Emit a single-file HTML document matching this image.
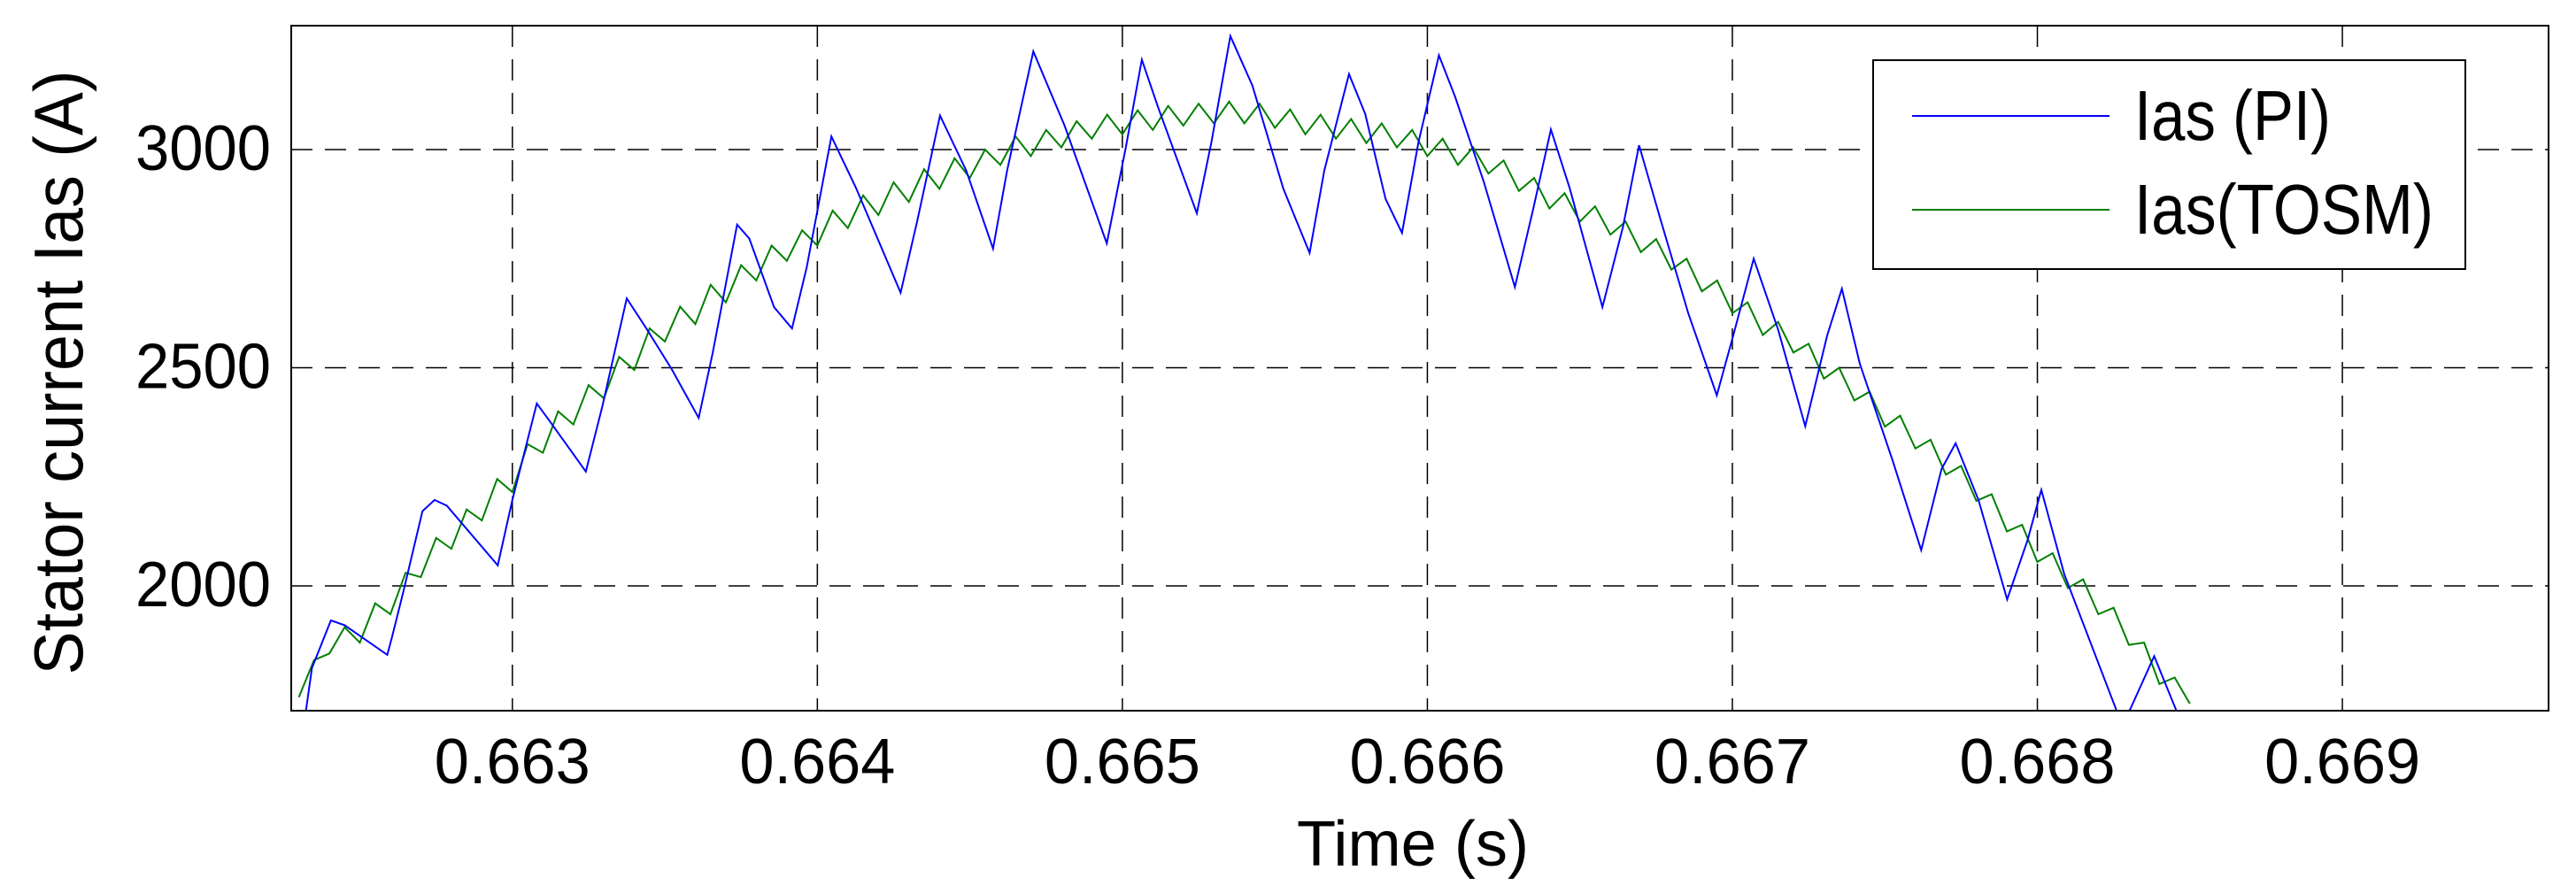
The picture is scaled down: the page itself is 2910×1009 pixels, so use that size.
<!DOCTYPE html>
<html><head><meta charset="utf-8"><style>
html,body{margin:0;padding:0;background:#fff;}
svg{display:block;font-family:"Liberation Sans",Arial,sans-serif;}
</style></head><body>
<svg id="chart" width="2910" height="1009" viewBox="0 0 2910 1009" xmlns="http://www.w3.org/2000/svg">
<rect x="0" y="0" width="2910" height="1009" fill="#fff"/>
<defs><clipPath id="plotclip"><rect x="329" y="29" width="2550" height="774"/></clipPath></defs>
<g id="grid"></g>
<g id="series" clip-path="url(#plotclip)"></g>
<rect x="329" y="29" width="2550" height="774" fill="none" stroke="#000" stroke-width="2"/>
<g id="ticks"></g>
<text x="1596" y="978" font-size="72" text-anchor="middle" textLength="262" lengthAdjust="spacingAndGlyphs">Time (s)</text>
<text transform="translate(93,421) rotate(-90)" font-size="78" text-anchor="middle" textLength="683" lengthAdjust="spacingAndGlyphs">Stator current Ias (A)</text>
<g>
<rect x="2116" y="68" width="669" height="236" fill="#fff" stroke="#000" stroke-width="2"/>
<line x1="2160" y1="131" x2="2383" y2="131" stroke="#0000ff" stroke-width="2"/>
<text x="2411" y="158" font-size="80" textLength="222" lengthAdjust="spacingAndGlyphs">Ias (PI)</text>
<line x1="2160" y1="237" x2="2383" y2="237" stroke="#007f00" stroke-width="2"/>
<text x="2411" y="264" font-size="80" textLength="338" lengthAdjust="spacingAndGlyphs">Ias(TOSM)</text>
</g>
</svg>
<script>
const xTicks = [0.663, 0.664, 0.665, 0.666, 0.667, 0.668, 0.669];
const xTickLabels = ["0.663","0.664","0.665","0.666","0.667","0.668","0.669"];
const yTicks = [2000, 2500, 3000];
const yTickLabels = ["2000","2500","3000"];
const piTime = [0.662322,0.662343,0.662405,0.662450,0.662590,0.662606,0.662643,0.662705,0.662745,0.662785,0.662952,0.663000,0.663080,0.663121,0.663241,0.663295,0.663375,0.663442,0.663523,0.663611,0.663657,0.663737,0.663777,0.663858,0.663917,0.663965,0.664046,0.664126,0.664273,0.664327,0.664402,0.664488,0.664576,0.664622,0.664708,0.664810,0.664949,0.665011,0.665064,0.665118,0.665244,0.665292,0.665354,0.665426,0.665528,0.665614,0.665662,0.665743,0.665796,0.665863,0.665917,0.665971,0.666038,0.666091,0.666185,0.666287,0.666346,0.666405,0.666466,0.666574,0.666641,0.666694,0.666761,0.666855,0.666949,0.667003,0.667070,0.667150,0.667239,0.667311,0.667359,0.667418,0.667525,0.667619,0.667686,0.667732,0.667807,0.667901,0.667968,0.668013,0.668088,0.668263,0.668303,0.668383,0.668464];
const piValues = [1708,1812,1921,1910,1842,1884,1988,2171,2197,2184,2047,2197,2418,2379,2262,2411,2659,2587,2496,2385,2535,2828,2796,2639,2590,2730,3030,2913,2672,2835,3078,2952,2773,2952,3225,3056,2785,3004,3206,3095,2854,3017,3260,3147,2910,2763,2952,3173,3082,2887,2809,3017,3216,3121,2926,2685,2861,3046,2913,2639,2822,3010,2848,2626,2437,2574,2750,2587,2366,2574,2681,2509,2288,2082,2268,2327,2197,1969,2105,2220,2027,1708,1715,1839,1700];
const tosmStart = 0.66230;
const tosmStep = 0.00005;
const tosmValues = [1745,1830,1845,1905,1870,1960,1935,2030,2020,2110,2085,2175,2150,2245,2215,2325,2305,2400,2370,2460,2430,2525,2495,2590,2560,2640,2600,2690,2650,2735,2700,2780,2745,2815,2780,2860,2820,2895,2850,2925,2880,2955,2910,2980,2935,3000,2965,3030,2985,3045,3005,3065,3025,3080,3035,3090,3045,3100,3055,3105,3060,3110,3060,3105,3050,3092,3035,3080,3025,3070,3015,3060,3005,3045,2985,3025,2965,3005,2945,2975,2905,2935,2865,2900,2835,2870,2805,2835,2765,2795,2725,2750,2675,2700,2625,2650,2575,2605,2535,2555,2475,2500,2425,2445,2365,2390,2315,2335,2255,2275,2195,2210,2125,2140,2055,2075,1995,2015,1935,1950,1865,1870,1775,1790,1730];

const NS = "http://www.w3.org/2000/svg";
const L = 329, R = 2879, T = 29, B = 803;
const xMin = 0.662275, xMax = 0.669676, yMin = 1714, yMax = 3284;
function sx(t){ return L + (t - xMin) / (xMax - xMin) * (R - L); }
function sy(v){ return B - (v - yMin) / (yMax - yMin) * (B - T); }

const grid = document.getElementById('grid');
const ticks = document.getElementById('ticks');
xTicks.forEach((t, i) => {
  const x = sx(t);
  const g = document.createElementNS(NS, 'line');
  
  
  g.setAttribute('x1', x); g.setAttribute('x2', x); g.setAttribute('y1', T); g.setAttribute('y2', B);
  g.setAttribute('stroke', '#000'); g.setAttribute('stroke-width', '1.5'); g.setAttribute('stroke-dasharray', '24,14');
  grid.appendChild(g);
  const lb = document.createElementNS(NS, 'text');
  
  
  lb.setAttribute('x', x); lb.setAttribute('y', 885);
  lb.setAttribute('font-size', '72'); lb.setAttribute('text-anchor', 'middle');
  lb.setAttribute('textLength', '176'); lb.setAttribute('lengthAdjust', 'spacingAndGlyphs');
  lb.textContent = xTickLabels[i];
  ticks.appendChild(lb);
});
yTicks.forEach((v, i) => {
  const y = sy(v);
  const g = document.createElementNS(NS, 'line');
  
  
  g.setAttribute('x1', L); g.setAttribute('x2', R); g.setAttribute('y1', y); g.setAttribute('y2', y);
  g.setAttribute('stroke', '#000'); g.setAttribute('stroke-width', '1.5'); g.setAttribute('stroke-dasharray', '24,14');
  grid.appendChild(g);
  const lb = document.createElementNS(NS, 'text');
  
  
  lb.setAttribute('x', 306); lb.setAttribute('y', y + 23);
  lb.setAttribute('font-size', '72'); lb.setAttribute('text-anchor', 'end');
  lb.setAttribute('textLength', '153'); lb.setAttribute('lengthAdjust', 'spacingAndGlyphs');
  lb.textContent = yTickLabels[i];
  ticks.appendChild(lb);
});

const series = document.getElementById('series');
const tosm = document.createElementNS(NS, 'polyline');


tosm.setAttribute('points', tosmValues.map((v, i) => sx(tosmStart + i * tosmStep).toFixed(1) + ',' + sy(v).toFixed(1)).join(' '));
tosm.setAttribute('fill', 'none'); tosm.setAttribute('stroke', '#007f00'); tosm.setAttribute('stroke-width', '2');
series.appendChild(tosm);
const pi = document.createElementNS(NS, 'polyline');


pi.setAttribute('points', piValues.map((v, i) => sx(piTime[i]).toFixed(1) + ',' + sy(v).toFixed(1)).join(' '));
pi.setAttribute('fill', 'none'); pi.setAttribute('stroke', '#0000ff'); pi.setAttribute('stroke-width', '2');
series.appendChild(pi);
</script>
</body></html>
